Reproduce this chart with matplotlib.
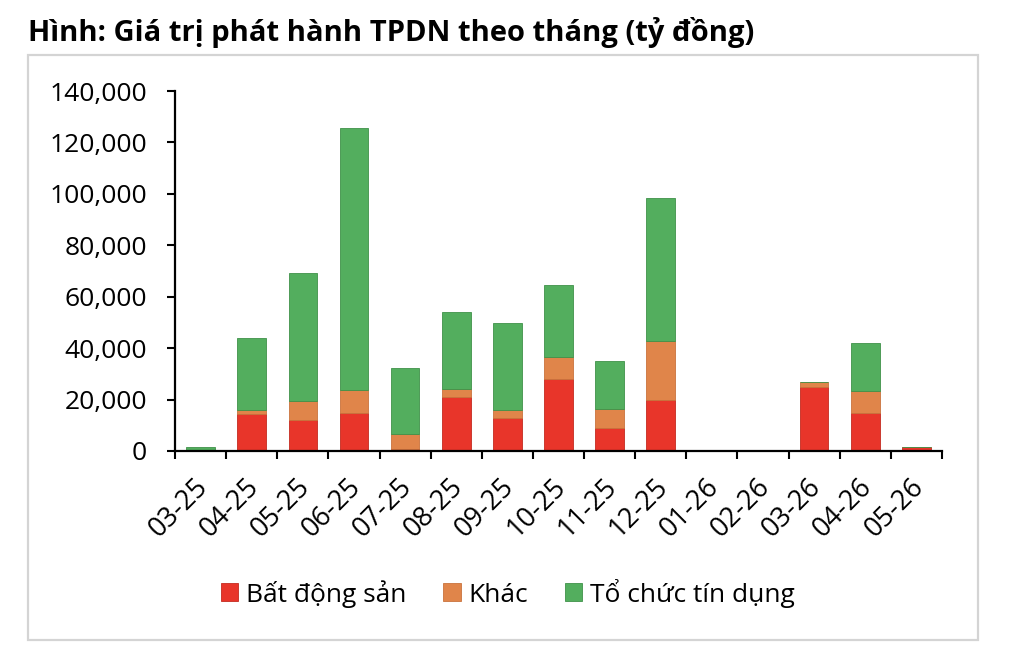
import numpy as np
import matplotlib
matplotlib.use("Agg")
import matplotlib.pyplot as plt
from matplotlib.patches import Rectangle
from matplotlib.ticker import FuncFormatter, FixedLocator
from matplotlib.transforms import ScaledTranslation

plt.rcParams['font.family'] = ['Open Sans', 'DejaVu Sans']

# ---------------------------
# Data (tỷ đồng)
# ---------------------------
months = ['03-25', '04-25', '05-25', '06-25', '07-25', '08-25', '09-25', '10-25',
          '11-25', '12-25', '01-26', '02-26', '03-26', '04-26', '05-26']
bat_dong_san = [0, 14300, 11900, 14600, 900, 21100, 13000, 28100,
                9100, 19900, 0, 0, 24900, 14800, 1400]
khac = [0, 1600, 7400, 9000, 5700, 3100, 2900, 8500,
        7400, 22800, 0, 0, 1800, 8400, 0]
to_chuc_tin_dung = [1600, 27900, 49800, 102000, 25700, 29800, 33900, 27800,
                    18400, 55600, 0, 0, 0, 18700, 0]

c_red = '#E8352A'
c_orange = '#E0854A'
c_green = '#53AE5E'

# ---------------------------
# Figure
# ---------------------------
fig = plt.figure(figsize=(10.24, 6.51), dpi=100)
ax = fig.add_axes([175 / 1024, 1 - 451 / 651, (942 - 175) / 1024, (451 - 91) / 651])

x = np.arange(len(months))
bds = np.array(bat_dong_san)
kh = np.array(khac)
tc = np.array(to_chuc_tin_dung)
w = 0.56
ax.bar(x, bds, w, color=c_red, edgecolor='#c42a20', linewidth=0.6, label='Bất động sản')
ax.bar(x, kh, w, bottom=bds, color=c_orange, edgecolor='#c9733c', linewidth=0.6, label='Khác')
ax.bar(x, tc, w, bottom=bds + kh, color=c_green, edgecolor='#3f9149', linewidth=0.6,
       label='Tổ chức tín dụng')

ax.set_xlim(-0.5, len(months) - 0.5)
ax.set_ylim(0, 140000)
ax.set_yticks(np.arange(0, 140001, 20000))
ax.yaxis.set_major_formatter(FuncFormatter(lambda v, p: f'{int(v):,}'))

# month labels at bar centres, tick marks at category boundaries
ax.set_xticks(x)
ax.set_xticklabels(months, rotation=45, ha='right', va='top', rotation_mode='anchor')
ax.xaxis.set_minor_locator(FixedLocator(np.arange(-0.5, len(months), 1.0)))
ax.tick_params(axis='x', which='major', length=0, pad=16, labelsize=19.5)
ax.tick_params(axis='x', which='minor', length=6, width=1.5, direction='out')
ax.tick_params(axis='y', length=6, width=1.5, direction='out', pad=14, labelsize=19)
shift = ScaledTranslation(-7 / 100, 0, fig.dpi_scale_trans)
for lbl in ax.get_xticklabels():
    lbl.set_transform(lbl.get_transform() + shift)

for s in ['top', 'right']:
    ax.spines[s].set_visible(False)
for s in ['left', 'bottom']:
    ax.spines[s].set_linewidth(1.6)

# legend
h, l = ax.get_legend_handles_labels()
fig.legend(h, l, loc='center', bbox_to_anchor=(508 / 1024, 1 - 593 / 651), ncol=3,
           frameon=False, fontsize=19, handlelength=0.65, handleheight=0.65,
           handletextpad=0.3, columnspacing=1.4)

# title and outer border
fig.text(28 / 1024, 1 - 41 / 651, 'Hình: Giá trị phát hành TPDN theo tháng (tỷ đồng)',
         fontsize=21, fontweight='bold', ha='left', va='baseline')
fig.patches.append(Rectangle((28 / 1024, 1 - 640 / 651), (978 - 28) / 1024, (640 - 55) / 651,
                             transform=fig.transFigure, fill=False, edgecolor='#d4d4d4',
                             linewidth=1.6))

fig.savefig('out.png', dpi=100)
